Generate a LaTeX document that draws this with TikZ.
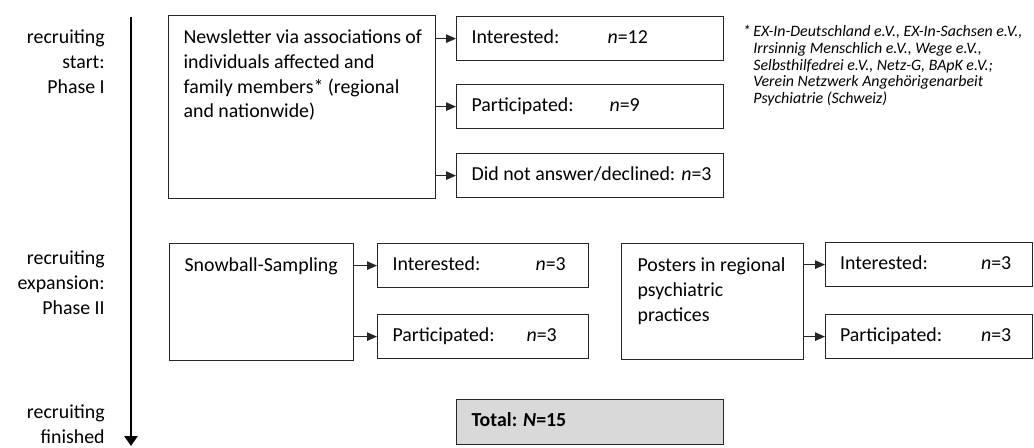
\documentclass[tikz,border=0pt]{standalone}
\usepackage{fontspec}
\setmainfont{Carlito}
\usetikzlibrary{arrows.meta, positioning}

\newcommand{\ncount}[3]{\mbox{\makebox[#1][l]{#2}\textit{n}=#3}}

\begin{document}
\begin{tikzpicture}[
    x=0.02cm, y=-0.02cm,
    every node/.style={font=\fontsize{11.3}{14.2}\selectfont},
    phase/.style={anchor=east, align=right, inner sep=0pt},
    srcbox/.style={draw=black!85, line width=0.7pt, anchor=north west, align=flush left, inner xsep=0.3cm, inner ysep=0.2cm, text height=0.35cm},
    countbox/.style={draw=black!85, line width=0.7pt, anchor=north west, align=flush left, inner xsep=0.3cm, inner ysep=0pt, minimum height=0.88cm, text height=1.6ex, text depth=0.5ex},
    totalbox/.style={countbox, fill=gray!30, minimum height=0.9cm},
    note/.style={anchor=north west, align=flush left, inner sep=0pt, font=\fontsize{9.05}{9.5}\selectfont\itshape},
    flow/.style={draw=black!85, line width=0.7pt, -{Triangle[length=2mm, width=1.7mm]}},
    axis/.style={line width=1.7pt, -{Triangle[length=2mm, width=2.6mm]}}
]
    \useasboundingbox (0,0) rectangle (1034,447);

    % Time axis
    \coordinate (axtop) at (131,17);
    \coordinate (axend) at (131,446);
    \draw[axis] (axtop) -- (axend);
    \node[phase] (ph1) at (105,62) {recruiting\\start:\\Phase I};
    \node[phase] (ph2) at (105,283) {recruiting\\expansion:\\Phase II};
    \node[phase] (ph3) at (105,424) {recruiting\\finished};

    % Phase I
    \node[srcbox, text width=4.74cm, text depth=2.91cm] (news) at (168,15) {\mbox{Newsletter via associations of}\\\mbox{individuals affected and}\\\mbox{family members* (regional}\\\mbox{and nationwide)}};
    \node[countbox, text width=4.74cm] (nint) at (456,16) {\ncount{2.72cm}{Interested:}{12}};
    \node[countbox, text width=4.74cm] (npart) at (456,84) {\ncount{2.76cm}{Participated:}{9}};
    \node[countbox, text width=4.74cm] (ndecl) at (456,153) {\mbox{Did not answer/declined: \textit{n}=3}};
    \node[note] (assoc) at (753,25) {\llap{*\,}EX-In-Deutschland e.V., EX-In-Sachsen e.V.,\\Irrsinnig Menschlich e.V., Wege e.V.,\\Selbsthilfedrei e.V., Netz-G, BApK e.V.;\\Verein Netzwerk Angehörigenarbeit\\Psychiatrie (Schweiz)};

    % Phase II
    \node[srcbox, text width=3.08cm, text depth=1.59cm] (snow) at (169,243) {Snowball-Sampling};
    \node[countbox, text width=3.62cm] (sint) at (377,243) {\ncount{2.86cm}{Interested:}{3}};
    \node[countbox, text width=3.62cm] (spart) at (377,314) {\ncount{2.68cm}{Participated:}{3}};
    \node[srcbox, text width=3.0cm, inner xsep=0.32cm, text depth=1.57cm] (post) at (621,243) {\mbox{Posters in regional}\\psychiatric\\practices};
    \node[countbox, text width=3.56cm, inner xsep=0.29cm] (pint) at (825,242) {\ncount{2.82cm}{Interested:}{3}};
    \node[countbox, text width=3.56cm, inner xsep=0.29cm] (ppart) at (825,314) {\ncount{2.82cm}{Participated:}{3}};

    % Result
    \node[totalbox, text width=4.74cm] (total) at (456,399) {\textbf{Total: \textit{N}=15}};

    % Connectors
    \draw[flow] (news.east |- nint.west) -- (nint.west);
    \draw[flow] (news.east |- npart.west) -- (npart.west);
    \draw[flow] (news.east |- ndecl.west) -- (ndecl.west);
    \draw[flow] (snow.east |- sint.west) -- (sint.west);
    \draw[flow] (snow.east |- spart.west) -- (spart.west);
    \draw[flow] (post.east |- pint.west) -- (pint.west);
    \draw[flow] (post.east |- ppart.west) -- (ppart.west);
\end{tikzpicture}
\end{document}
